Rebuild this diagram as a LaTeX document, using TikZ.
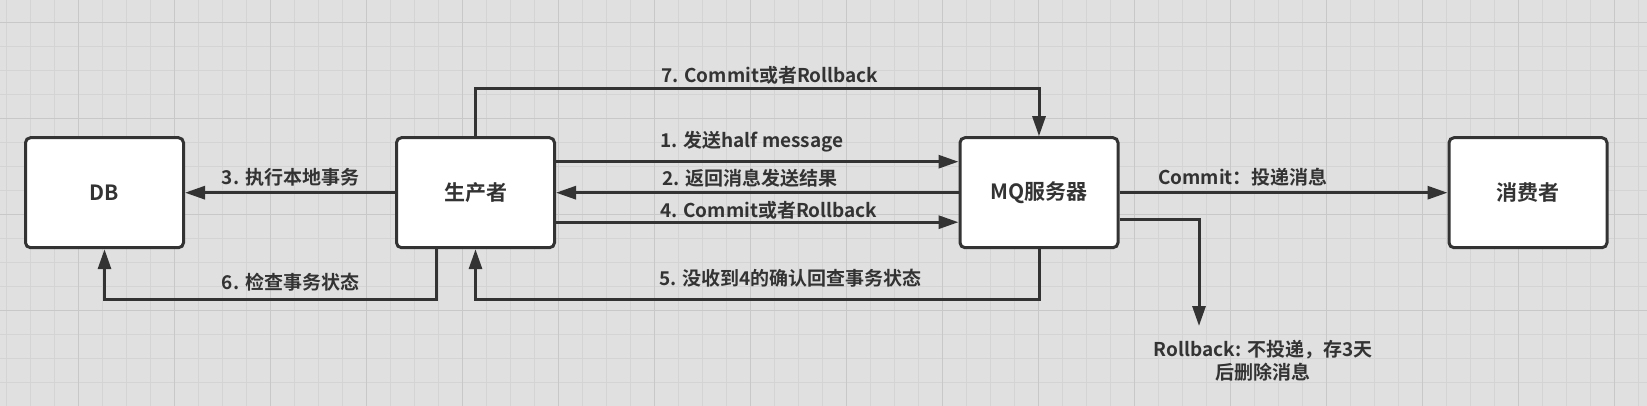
\documentclass[tikz,border=0pt]{standalone}
\usepackage{fontspec}
\setmainfont{Noto Sans CJK SC}[BoldFont={Noto Sans CJK SC Bold}]
\usetikzlibrary{arrows.meta}
\definecolor{ink}{HTML}{333333}
\definecolor{bgc}{HTML}{E0E0E0}
\definecolor{gminor}{HTML}{D4D4D4}
\definecolor{gmajor}{HTML}{C8C8C8}
\begin{document}
\begin{tikzpicture}[x=1pt,y=-1pt,
  box/.style={draw=ink, line width=3pt, fill=white, rounded corners=5pt, minimum width=158pt, minimum height=110pt, inner sep=0pt, font=\fontsize{21}{25}\selectfont\bfseries, text=ink},
  conn/.style={draw=ink, line width=3pt, -{Triangle[length=20pt,width=13pt]}},
  lbl/.style={font=\fontsize{19}{23}\selectfont\bfseries, text=ink, inner sep=0pt},
  gridminor/.style={draw=gminor, line width=1pt},
  gridmajor/.style={draw=gmajor, line width=1pt},
]
\useasboundingbox (0,0) rectangle (1647,406);
\fill[bgc] (0,0) rectangle (1647,406);
\foreach \x in {6.7,30.7,...,1647} \draw[gridminor] (\x,0) -- (\x,406);
\foreach \y in {22.3,46.3,...,406} \draw[gridminor] (0,\y) -- (1647,\y);
\foreach \x in {78.7,174.7,...,1647} \draw[gridmajor] (\x,0) -- (\x,406);
\foreach \y in {22.3,118.3,...,406} \draw[gridmajor] (0,\y) -- (1647,\y);

\node[box] (db) at (104.5,192.7) {DB};
\node[box] (prod) at (475.5,192.7) {生产者};
\node[box] (mq) at (1039,192.7) {MQ服务器};
\node[box] (cons) at (1528,192.7) {消费者};

\draw[conn] ([yshift=31pt]prod.east) -- ([yshift=31pt]mq.west);
\draw[conn] (mq.west) -- (prod.east);
\draw[conn] (prod.west) -- (db.east);
\draw[conn] ([yshift=-29.5pt]prod.east) -- ([yshift=-29.5pt]mq.west);
\draw[conn] (mq.south) -- ++(0pt,-50pt) -| (prod.south);
\draw[conn] ([xshift=-39pt]prod.south) -- ++(0pt,-50pt) -| (db.south);
\draw[conn] (prod.north) -- ++(0pt,48pt) -| (mq.north);
\draw[conn] (mq.east) -- (cons.west);
\coordinate (rbend) at (1199,326);
\draw[conn] ([yshift=-26.5pt]mq.east) -| (rbend);

\node[lbl, anchor=west] (l1) at (660,142) {1. 发送half message};
\node[lbl, anchor=west] (l2) at (662,178) {2. 返回消息发送结果};
\node[lbl] (l3) at (290.5,177.5) {3. 执行本地事务};
\node[lbl, anchor=west] (l4) at (660,210) {4. Commit或者Rollback};
\node[lbl, anchor=west] (l5) at (659,278) {5. 没收到4的确认回查事务状态};
\node[lbl] (l6) at (290.5,281.7) {6. 检查事务状态};
\node[lbl, anchor=west] (l7) at (661,75) {7. Commit或者Rollback};
\node[lbl, anchor=west] (lc) at (1158,177) {Commit：投递消息};
\node[lbl, align=center] (lr) at (1263,360.5) {Rollback: 不投递，存3天\\后删除消息};
\end{tikzpicture}
\end{document}
